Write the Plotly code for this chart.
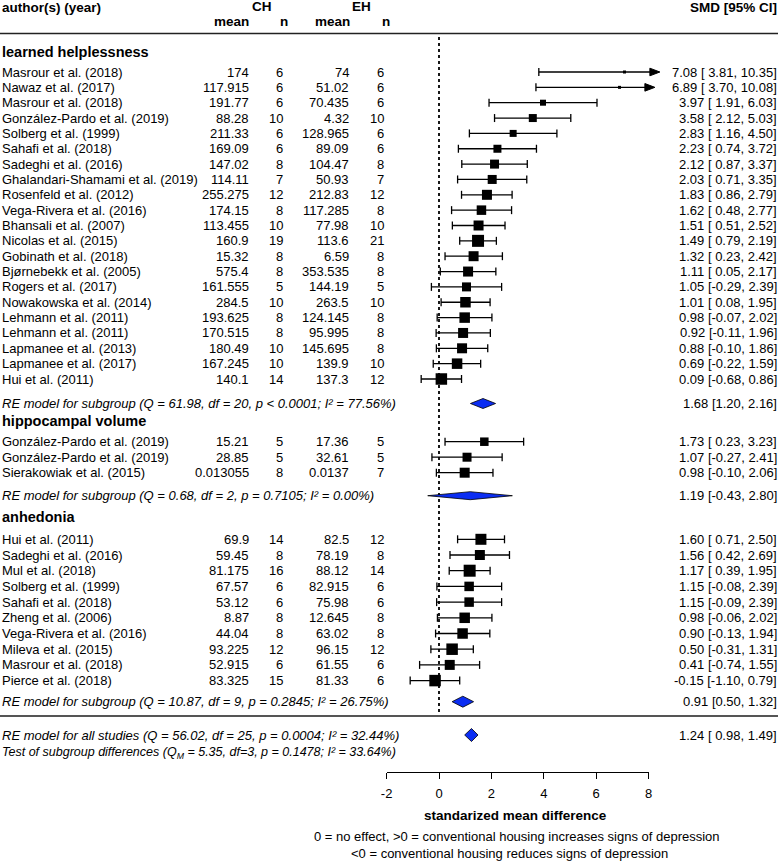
import plotly.graph_objects as go

W, H = 778, 861

# ---- values ----
LH_AUTHORS = [
    "Masrour et al. (2018)", "Nawaz et al. (2017)", "Masrour et al. (2018)",
    "González-Pardo et al. (2019)", "Solberg et al. (1999)", "Sahafi et al. (2018)",
    "Sadeghi et al. (2016)", "Ghalandari-Shamami et al. (2019)", "Rosenfeld et al. (2012)",
    "Vega-Rivera et al. (2016)", "Bhansali et al. (2007)", "Nicolas et al. (2015)",
    "Gobinath et al. (2018)", "Bjørnebekk et al. (2005)", "Rogers et al. (2017)",
    "Nowakowska et al. (2014)", "Lehmann et al. (2011)", "Lehmann et al. (2011)",
    "Lapmanee et al. (2013)", "Lapmanee et al. (2017)", "Hui et al. (2011)",
]
LH_CH_MEAN = [174, 117.915, 191.77, 88.28, 211.33, 169.09, 147.02, 114.11, 255.275, 174.15,
              113.455, 160.9, 15.32, 575.4, 161.555, 284.5, 193.625, 170.515, 180.49, 167.245, 140.1]
LH_CH_N = [6, 6, 6, 10, 6, 6, 8, 7, 12, 8, 10, 19, 8, 8, 5, 10, 8, 8, 10, 10, 14]
LH_EH_MEAN = [74, 51.02, 70.435, 4.32, 128.965, 89.09, 104.47, 50.93, 212.83, 117.285,
              77.98, 113.6, 6.59, 353.535, 144.19, 263.5, 124.145, 95.995, 145.695, 139.9, 137.3]
LH_EH_N = [6, 6, 6, 10, 6, 6, 8, 7, 12, 8, 10, 21, 8, 8, 5, 10, 8, 8, 8, 10, 12]
LH_SMD = [7.08, 6.89, 3.97, 3.58, 2.83, 2.23, 2.12, 2.03, 1.83, 1.62, 1.51, 1.49, 1.32, 1.11,
          1.05, 1.01, 0.98, 0.92, 0.88, 0.69, 0.09]
LH_LO = [3.81, 3.70, 1.91, 2.12, 1.16, 0.74, 0.87, 0.71, 0.86, 0.48, 0.51, 0.79, 0.23, 0.05,
         -0.29, 0.08, -0.07, -0.11, -0.10, -0.22, -0.68]
LH_HI = [10.35, 10.08, 6.03, 5.03, 4.50, 3.72, 3.37, 3.35, 2.79, 2.77, 2.52, 2.19, 2.42, 2.17,
         2.39, 1.95, 2.02, 1.96, 1.86, 1.59, 0.86]

HV_AUTHORS = ["González-Pardo et al. (2019)", "González-Pardo et al. (2019)", "Sierakowiak et al. (2015)"]
HV_CH_MEAN = [15.21, 28.85, 0.013055]
HV_CH_N = [5, 5, 8]
HV_EH_MEAN = [17.36, 32.61, 0.0137]
HV_EH_N = [5, 5, 7]
HV_SMD = [1.73, 1.07, 0.98]
HV_LO = [0.23, -0.27, -0.10]
HV_HI = [3.23, 2.41, 2.06]

AN_AUTHORS = [
    "Hui et al. (2011)", "Sadeghi et al. (2016)", "Mul et al. (2018)", "Solberg et al. (1999)",
    "Sahafi et al. (2018)", "Zheng et al. (2006)", "Vega-Rivera et al. (2016)",
    "Mileva et al. (2015)", "Masrour et al. (2018)", "Pierce et al. (2018)",
]
AN_CH_MEAN = [69.9, 59.45, 81.175, 67.57, 53.12, 8.87, 44.04, 93.225, 52.915, 83.325]
AN_CH_N = [14, 8, 16, 6, 6, 8, 8, 12, 6, 15]
AN_EH_MEAN = [82.5, 78.19, 88.12, 82.915, 75.98, 12.645, 63.02, 96.15, 61.55, 81.33]
AN_EH_N = [12, 8, 14, 6, 6, 8, 8, 12, 6, 6]
AN_SMD = [1.60, 1.56, 1.17, 1.15, 1.15, 0.98, 0.90, 0.50, 0.41, -0.15]
AN_LO = [0.71, 0.42, 0.39, -0.08, -0.09, -0.06, -0.13, -0.31, -0.74, -1.10]
AN_HI = [2.50, 2.69, 1.95, 2.39, 2.39, 2.02, 1.94, 1.31, 1.55, 0.79]

# square size (study weight), px
LH_BOX = [3, 3, 6, 8, 7, 8, 9, 9, 10, 9.5, 10, 12, 10, 10, 9, 10.5, 10.5, 10, 10, 10.5, 11.5]
HV_BOX = [8.5, 9, 10]
AN_BOX = [11, 10, 12, 9.5, 9.5, 10.5, 10.5, 11.5, 10, 11.5]

# arrow tips drawn where CI runs past the axis limit
ARROW_TIP = [8.43, 8.24]
AXIS_MAX = 8

GROUP_NAMES = ["learned helplessness", "hippocampal volume", "anhedonia"]
SUB_SMD = [1.68, 1.19, 0.91]
SUB_LO = [1.20, -0.43, 0.50]
SUB_HI = [2.16, 2.80, 1.32]
SUB_STATS = [
    "Q = 61.98, df = 20, p < 0.0001; I² = 77.56%",
    "Q = 0.68, df = 2, p = 0.7105; I² = 0.00%",
    "Q = 10.87, df = 9, p = 0.2845; I² = 26.75%",
]
ALL_SMD, ALL_LO, ALL_HI = 1.24, 0.98, 1.49
ALL_STATS = "Q = 56.02, df = 25, p = 0.0004; I² = 32.44%"
TEST_STATS = "Q<sub>M</sub> = 5.35, df=3, p = 0.1478; I² = 33.64%"
TICKS = [-2, 0, 2, 4, 6, 8]

# ---- layout (pixel rows, y axis runs in pixels) ----
HEADER_Y = [52, 421, 516.7]
ROW_Y0 = [72, 441.7, 539.3]
ROW_STEP = [15.35, 15.5, 15.7]
SUMMARY_Y = [403.5, 495.7, 701.7]
DIAMOND_H = [10, 8, 11]
OVERALL_Y, OVERALL_H = 735, 13
TEST_Y = 753.3
X0_PX, PX_PER_UNIT = 439, 26.2

FONT = "Liberation Sans, Arial, sans-serif"
BLUE = "#0b2df2"

groups = [
    (LH_AUTHORS, LH_CH_MEAN, LH_CH_N, LH_EH_MEAN, LH_EH_N, LH_SMD, LH_LO, LH_HI, LH_BOX),
    (HV_AUTHORS, HV_CH_MEAN, HV_CH_N, HV_EH_MEAN, HV_EH_N, HV_SMD, HV_LO, HV_HI, HV_BOX),
    (AN_AUTHORS, AN_CH_MEAN, AN_CH_N, AN_EH_MEAN, AN_EH_N, AN_SMD, AN_LO, AN_HI, AN_BOX),
]

annotations = []


def txt(x_px, y, s, anchor="left", size=13):
    annotations.append(dict(
        x=x_px / W, xref="paper", y=y, yref="y", text=s, showarrow=False,
        xanchor=anchor, yanchor="middle", borderpad=0, borderwidth=0,
        font=dict(family=FONT, size=size, color="black"),
    ))


def ci_text(est, lo, hi, pad=True):
    lo_s = f"{lo:5.2f}" if pad else f"{lo:.2f}"
    return f"{est:.2f} [{lo_s}, {hi:.2f}]"


# headers
txt(2, 7, "<b>author(s) (year)</b>", size=13.5)
txt(262, 6, "<b>CH</b>", "center", 13.5)
txt(361, 6, "<b>EH</b>", "center", 13.5)
txt(249, 21, "<b>mean</b>", "right", 13.5)
txt(288, 21, "<b>n</b>", "right", 13.5)
txt(350, 21, "<b>mean</b>", "right", 13.5)
txt(390, 21, "<b>n</b>", "right", 13.5)
txt(777, 7, "<b>SMD [95% CI]</b>", "right", 13.5)

ci_x, ci_y, cap_x, cap_y = [], [], [], []
sq_x, sq_y, sq_s = [], [], []
arrows = []

for g, (authors, chm, chn, ehm, ehn, smd, lo, hi, box) in enumerate(groups):
    txt(2, HEADER_Y[g], f"<b>{GROUP_NAMES[g]}</b>", size=14.5)
    for i in range(len(authors)):
        y = ROW_Y0[g] + i * ROW_STEP[g]
        txt(2, y, authors[i])
        txt(249, y, f"{chm[i]:g}", "right")
        txt(283, y, str(chn[i]), "right")
        txt(349, y, f"{ehm[i]:g}", "right")
        txt(384, y, str(ehn[i]), "right")
        txt(777, y, ci_text(smd[i], lo[i], hi[i]), "right")
        cap_x += [lo[i], lo[i], None]
        cap_y += [y - 4, y + 4, None]
        if hi[i] > AXIS_MAX:
            tip = ARROW_TIP[len(arrows)]
            arrows.append((tip, y))
            ci_x += [lo[i], tip - 0.3, None]
        else:
            ci_x += [lo[i], hi[i], None]
            cap_x += [hi[i], hi[i], None]
            cap_y += [y - 4, y + 4, None]
        ci_y += [y, y, None]
        sq_x.append(smd[i])
        sq_y.append(y)
        sq_s.append(box[i])
    sy = SUMMARY_Y[g]
    txt(2, sy, f"<i>RE model for subgroup ({SUB_STATS[g]})</i>")
    txt(777, sy, ci_text(SUB_SMD[g], SUB_LO[g], SUB_HI[g], pad=False), "right")

txt(2, OVERALL_Y, f"<i>RE model for all studies ({ALL_STATS})</i>")
txt(777, OVERALL_Y, ci_text(ALL_SMD, ALL_LO, ALL_HI), "right")
txt(2, TEST_Y, f"<i>Test of subgroup differences ({TEST_STATS})</i>", size=12.5)

txt(515, 815, "<b>standarized mean difference</b>", "center", 13.5)
txt(517, 836.7, "0 = no effect, >0 = conventional housing increases signs of depression", "center")
txt(509, 853, "<0 = conventional housing reduces signs of depression", "center")

fig = go.Figure()

# zero reference
fig.add_trace(go.Scatter(x=[0, 0], y=[37, 716], mode="lines",
                         line=dict(color="black", width=1.8, dash="3px,3px"),
                         hoverinfo="skip", showlegend=False))

fig.add_trace(go.Scatter(x=ci_x, y=ci_y, mode="lines", line=dict(color="black", width=1.3),
                         hoverinfo="skip", showlegend=False))
fig.add_trace(go.Scatter(x=cap_x, y=cap_y, mode="lines", line=dict(color="black", width=1.3),
                         hoverinfo="skip", showlegend=False))

for tip, y in arrows:
    head = 10 / PX_PER_UNIT
    fig.add_trace(go.Scatter(x=[tip, tip - head, tip - head, tip], y=[y, y - 3.8, y + 3.8, y],
                             mode="lines", fill="toself", fillcolor="black",
                             line=dict(color="black", width=1), hoverinfo="skip",
                             showlegend=False))

fig.add_trace(go.Scatter(x=sq_x, y=sq_y, mode="markers",
                         marker=dict(symbol="square", size=sq_s, color="black", opacity=1,
                                     line=dict(width=0)),
                         showlegend=False))

diamonds = [(SUB_SMD[g], SUB_LO[g], SUB_HI[g], SUMMARY_Y[g], DIAMOND_H[g]) for g in range(3)]
diamonds.append((ALL_SMD, ALL_LO, ALL_HI, OVERALL_Y, OVERALL_H))
for est, lo, hi, y, h in diamonds:
    fig.add_trace(go.Scatter(x=[lo, est, hi, est, lo], y=[y, y - h / 2, y, y + h / 2, y],
                             mode="lines", fill="toself", fillcolor=BLUE,
                             line=dict(color="black", width=0.8), hoverinfo="skip",
                             showlegend=False))

# dummy trace so the bottom SMD axis is drawn
fig.add_trace(go.Scatter(x=[TICKS[0], TICKS[-1]], y=[0, 0], xaxis="x2", mode="markers",
                         marker=dict(opacity=0), hoverinfo="skip", showlegend=False))

shapes = [
    dict(type="line", xref="paper", yref="y", x0=0, x1=1, y0=33.5, y1=33.5,
         line=dict(color="#222222", width=1.4)),
    dict(type="line", xref="paper", yref="y", x0=0, x1=1, y0=716, y1=716,
         line=dict(color="#555555", width=2)),
]

ax_lo_px = X0_PX + TICKS[0] * PX_PER_UNIT
ax_hi_px = X0_PX + TICKS[-1] * PX_PER_UNIT

fig.update_layout(
    width=W, height=H, margin=dict(l=0, r=0, t=0, b=0),
    paper_bgcolor="white", plot_bgcolor="rgba(0,0,0,0)",
    xaxis=dict(range=[-X0_PX / PX_PER_UNIT, (W - X0_PX) / PX_PER_UNIT], domain=[0, 1],
               visible=False, fixedrange=True),
    xaxis2=dict(range=[TICKS[0], TICKS[-1]], domain=[ax_lo_px / W, ax_hi_px / W],
                anchor="free", position=1 - 772 / H, side="bottom",
                showline=True, linecolor="black", linewidth=1.3,
                ticks="outside", ticklen=6, tickwidth=1.3, tickcolor="black",
                tickvals=TICKS, ticktext=[str(t) for t in TICKS], ticklabelstandoff=3,
                showgrid=False, zeroline=False, fixedrange=True,
                tickfont=dict(family=FONT, size=13, color="black"), automargin=False),
    yaxis=dict(range=[H, 0], domain=[0, 1], visible=False, fixedrange=True),
    annotations=annotations, shapes=shapes, showlegend=False,
)

fig.write_html("out.html", config={"displayModeBar": False},
               post_script="document.body.style.margin='0';")
